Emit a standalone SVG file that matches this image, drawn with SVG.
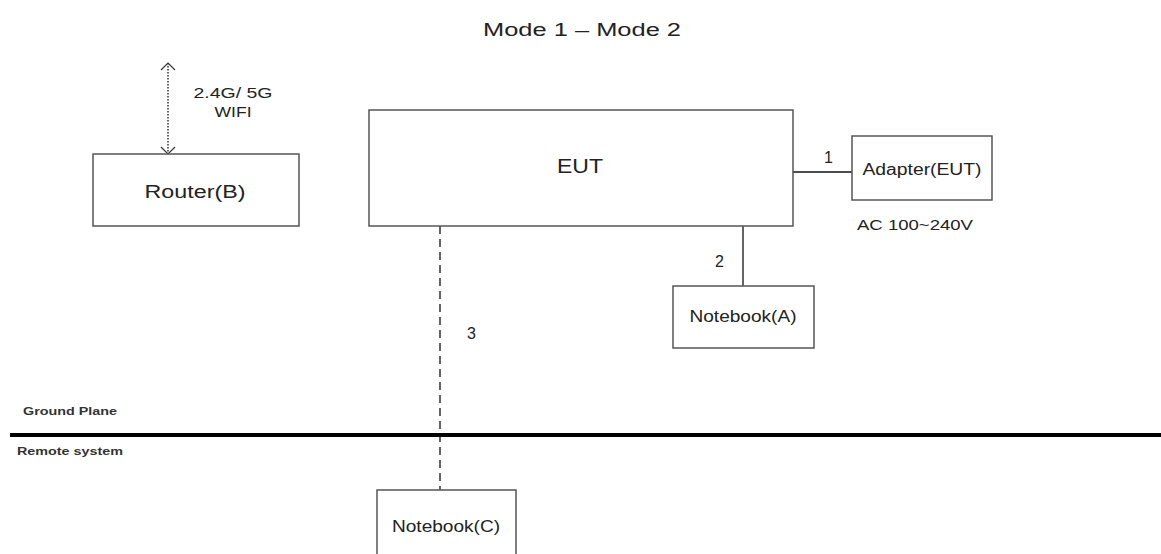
<svg xmlns="http://www.w3.org/2000/svg" width="1161" height="554" viewBox="0 0 1161 554">
<defs>
<marker id="chev" viewBox="0 0 9 16" refX="8" refY="8" markerWidth="9" markerHeight="16" markerUnits="userSpaceOnUse" orient="auto-start-reverse">
<path d="M1,1 L8,8 L1,15" fill="none" stroke="#333" stroke-width="1.2"/>
</marker>
</defs>
<style>
.box{fill:#fff;stroke:#555;stroke-width:1.5}
.t{font-family:"Liberation Sans",Arial,sans-serif;fill:#222;text-anchor:middle}
.lbl{font-family:"Liberation Sans",Arial,sans-serif;fill:#222}
.b{font-family:"Liberation Sans",Arial,sans-serif;font-weight:bold;fill:#333;font-size:10.5px}
.ln{stroke:#111;stroke-width:1.3;fill:none}
</style>
<rect width="1161" height="554" fill="#fff"/>
<text class="t" x="582" y="36" font-size="18" textLength="198" lengthAdjust="spacingAndGlyphs">Mode 1 – Mode 2</text>
<g id="connectors">
<line class="ln" x1="168" y1="63" x2="168" y2="154" stroke-dasharray="1.5 1.5" marker-start="url(#chev)" marker-end="url(#chev)"/>
<line class="ln" x1="793" y1="172" x2="852" y2="172"/>
<line class="ln" x1="743" y1="226" x2="743" y2="286"/>
<line class="ln" x1="440" y1="226" x2="440" y2="490" stroke-width="1.6" stroke-dasharray="8 5"/>
</g>
<g id="wifi-label">
<text class="t" x="233" y="98" font-size="14" textLength="79" lengthAdjust="spacingAndGlyphs">2.4G/ 5G</text>
<text class="t" x="233" y="117" font-size="14" textLength="37" lengthAdjust="spacingAndGlyphs">WIFI</text>
</g>
<g id="router">
<rect class="box" x="93" y="154" width="206" height="72"/>
<text class="t" x="195" y="198" font-size="18" textLength="101" lengthAdjust="spacingAndGlyphs">Router(B)</text>
</g>
<g id="eut">
<rect class="box" x="369" y="110" width="424" height="116"/>
<text class="t" x="580" y="173" font-size="21" textLength="46" lengthAdjust="spacingAndGlyphs">EUT</text>
</g>
<g id="adapter">
<rect class="box" x="852" y="136" width="140" height="64"/>
<text class="t" x="922" y="175" font-size="16" textLength="119" lengthAdjust="spacingAndGlyphs">Adapter(EUT)</text>
<text class="t" x="915" y="230" font-size="15" textLength="116" lengthAdjust="spacingAndGlyphs">AC 100~240V</text>
</g>
<g id="notebook-a">
<rect class="box" x="673" y="286" width="141" height="62"/>
<text class="t" x="743" y="322" font-size="16" textLength="107" lengthAdjust="spacingAndGlyphs">Notebook(A)</text>
</g>
<g id="notebook-c">
<rect class="box" x="377" y="490" width="139" height="80"/>
<text class="t" x="446" y="532" font-size="16" textLength="108" lengthAdjust="spacingAndGlyphs">Notebook(C)</text>
</g>
<g id="labels">
<text class="lbl" x="824" y="163" font-size="16">1</text>
<text class="lbl" x="715" y="267" font-size="16">2</text>
<text class="lbl" x="467" y="339" font-size="16">3</text>
</g>
<g id="ground">
<line x1="10" y1="435" x2="1161" y2="435" stroke="#000" stroke-width="4"/>
<text class="b" x="23" y="415" textLength="94" lengthAdjust="spacingAndGlyphs">Ground Plane</text>
<text class="b" x="17" y="455" textLength="106" lengthAdjust="spacingAndGlyphs">Remote system</text>
</g>
</svg>
